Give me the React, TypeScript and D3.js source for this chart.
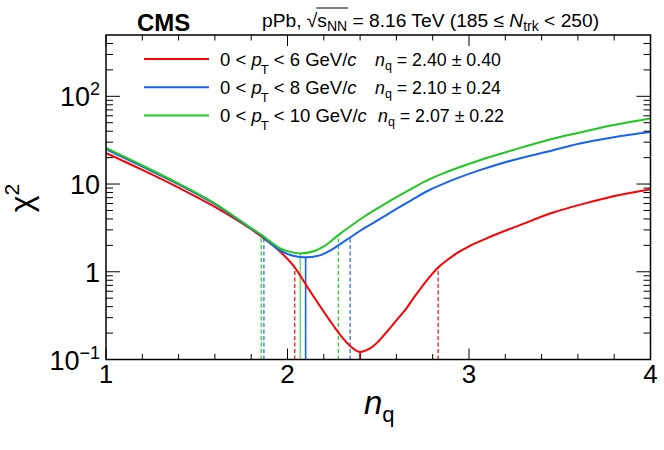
import * as d3 from 'd3';
import React, { useEffect } from 'react';

// chi2 scan values
const redNq = [1.0, 1.2, 1.4, 1.6, 1.8, 1.9, 1.96, 2.04, 2.1, 2.15, 2.23, 2.3, 2.35, 2.4, 2.45, 2.5, 2.55, 2.6, 2.65, 2.7, 2.77, 2.83, 2.88, 2.94, 3.0, 3.1, 3.28, 3.46, 3.65, 3.83, 4.0];
const redChi2 = [22.6, 14.5, 9.1, 5.5, 3.05, 2.15, 1.69, 1.12, 0.72, 0.5, 0.285, 0.18, 0.14, 0.122, 0.132, 0.16, 0.21, 0.28, 0.37, 0.52, 0.81, 1.12, 1.36, 1.66, 1.95, 2.42, 3.4, 4.7, 6.1, 7.5, 8.7];

const blueNq = [1.0, 1.2, 1.4, 1.6, 1.8, 1.86, 1.92, 1.96, 2.03, 2.1, 2.17, 2.22, 2.28, 2.345, 2.43, 2.51, 2.6, 2.69, 2.78, 2.88, 3.06, 3.24, 3.43, 3.61, 3.79, 4.0];
const blueChi2 = [24.9, 15.8, 9.9, 5.9, 3.1, 2.55, 2.0, 1.75, 1.52, 1.46, 1.52, 1.68, 2.0, 2.46, 3.2, 4.0, 5.2, 6.7, 8.5, 10.5, 14.4, 18.7, 23.3, 29.0, 34.0, 39.3];

const greenNq = [1.0, 1.2, 1.4, 1.6, 1.8, 1.86, 1.92, 1.96, 2.0, 2.07, 2.14, 2.2, 2.28, 2.35, 2.43, 2.51, 2.6, 2.69, 2.78, 2.88, 3.06, 3.24, 3.43, 3.61, 3.79, 4.0];
const greenChi2 = [25.8, 16.3, 10.1, 6.0, 3.15, 2.6, 2.1, 1.85, 1.72, 1.62, 1.7, 1.95, 2.62, 3.35, 4.35, 5.5, 7.1, 9.0, 11.3, 13.8, 18.7, 24.3, 31.6, 38.7, 46.8, 55.9];

// best fit and +-1 sigma (delta chi2 = 1) positions
const seriesNames = ['red', 'blue', 'green'];
const seriesColors = ['#ff0000', '#1763f2', '#1fc81f'];
const ptMax = ['6', '8', '10'];
const fitLabels = ['2.40 \u00b1 0.40', '2.10 \u00b1 0.24', '2.07 \u00b1 0.22'];
const bestNq = [2.4, 2.1, 2.07];
const bestChi2 = [0.122, 1.46, 1.62];
const lowNq = [2.04, 1.87, 1.855];
const highNq = [2.83, 2.345, 2.28];
const sigmaChi2 = [1.12, 2.46, 2.62];

const xMajor = [1, 2, 3, 4];
const yMajor = [0.1, 1, 10, 100];
const yLabels = [['10', '\u22121'], ['1', ''], ['10', ''], ['10', '2']];

export default function App() {
  const ref = React.useRef<SVGSVGElement>(null);

  useEffect(() => {
    if (!ref.current) return;
    document.body.style.margin = '0';
    const svg = d3.select(ref.current);
    svg.selectAll('*').remove();

    const left = 106, right = 650.5, top = 35, bottom = 359.5;
    const x = d3.scaleLinear().domain([1, 4]).range([left, right]);
    const y = d3.scaleLog().domain([0.1, 500]).range([bottom, top]);
    const font = "'Liberation Sans', Arial, Helvetica, sans-serif";
    svg.style('font-family', font);

    const data = [
      redNq.map((n, i) => [n, redChi2[i]]),
      blueNq.map((n, i) => [n, blueChi2[i]]),
      greenNq.map((n, i) => [n, greenChi2[i]]),
    ];

    const plot = svg.append('g');

    // dashed +-1 sigma lines and solid best-fit lines
    seriesNames.forEach((_, i) => {
      [lowNq[i], highNq[i]].forEach(n => {
        plot.append('line')
          .attr('x1', x(n)).attr('x2', x(n))
          .attr('y1', y(0.1)).attr('y2', y(sigmaChi2[i]))
          .attr('stroke', seriesColors[i])
          .attr('stroke-width', 1.2)
          .attr('stroke-dasharray', '4,2.5');
      });
      plot.append('line')
        .attr('x1', x(bestNq[i])).attr('x2', x(bestNq[i]))
        .attr('y1', y(0.1)).attr('y2', y(bestChi2[i]))
        .attr('stroke', seriesColors[i])
        .attr('stroke-opacity', i === 2 ? 0.6 : 1)
        .attr('stroke-width', 1.6);
    });

    const line = d3.line<number[]>()
      .x(d => x(d[0]))
      .y(d => y(d[1]))
      .curve(d3.curveMonotoneX);
    data.forEach((pts, i) => {
      plot.append('path')
        .datum(pts)
        .attr('fill', 'none')
        .attr('stroke', seriesColors[i])
        .attr('stroke-width', 2)
        .attr('d', line);
    });

    // ticks, on all four sides
    const axis = svg.append('g').attr('stroke', '#000').attr('stroke-width', 1);
    d3.range(1, 4.001, 0.2).forEach(v => {
      const major = xMajor.some(m => Math.abs(m - v) < 1e-6);
      const len = major ? 11 : 5.5;
      axis.append('line').attr('x1', x(v)).attr('x2', x(v)).attr('y1', bottom).attr('y2', bottom - len);
      axis.append('line').attr('x1', x(v)).attr('x2', x(v)).attr('y1', top).attr('y2', top + len);
    });
    const yMinor: number[] = [];
    yMajor.forEach(d => d3.range(2, 10).forEach(k => { if (d * k < 500) yMinor.push(d * k); }));
    yMajor.forEach(v => {
      axis.append('line').attr('x1', left).attr('x2', left + 14).attr('y1', y(v)).attr('y2', y(v));
      axis.append('line').attr('x1', right).attr('x2', right - 14).attr('y1', y(v)).attr('y2', y(v));
    });
    yMinor.forEach(v => {
      axis.append('line').attr('x1', left).attr('x2', left + 7).attr('y1', y(v)).attr('y2', y(v));
      axis.append('line').attr('x1', right).attr('x2', right - 7).attr('y1', y(v)).attr('y2', y(v));
    });

    svg.append('rect')
      .attr('x', left).attr('y', top)
      .attr('width', right - left).attr('height', bottom - top)
      .attr('fill', 'none').attr('stroke', '#000').attr('stroke-width', 1.5);

    // tick labels
    xMajor.forEach(v => {
      svg.append('text')
        .attr('x', x(v)).attr('y', 383)
        .attr('text-anchor', 'middle')
        .style('font-size', '26px')
        .text(String(v));
    });
    yMajor.forEach((v, i) => {
      const t = svg.append('text')
        .attr('x', 100).attr('y', y(v) + 10)
        .attr('text-anchor', 'end')
        .style('font-size', '27px');
      t.append('tspan').text(yLabels[i][0]);
      if (yLabels[i][1]) {
        t.append('tspan').attr('dy', -11).style('font-size', '18px').text(yLabels[i][1]);
      }
    });

    // axis titles
    const xt = svg.append('text').attr('x', 364).attr('y', 414).style('font-size', '33px');
    xt.append('tspan').style('font-style', 'italic').text('n');
    xt.append('tspan').attr('dy', 8).style('font-size', '22px').text('q');

    const yt = svg.append('text')
      .attr('transform', 'translate(32,198) rotate(-90)')
      .attr('text-anchor', 'middle')
      .style('font-size', '32px');
    yt.append('tspan').text('\u03c7');
    yt.append('tspan').attr('dy', -13).style('font-size', '21px').text('2');

    // header
    svg.append('text')
      .attr('x', 137).attr('y', 31)
      .style('font-size', '24px').style('font-weight', 'bold')
      .text('CMS');
    const hdr = svg.append('text').attr('x', 262).attr('y', 27).style('font-size', '19.2px');
    hdr.append('tspan').text('pPb, \u221a');
    hdr.append('tspan').text('s');
    hdr.append('tspan').attr('dy', 4).style('font-size', '14px').text('NN');
    hdr.append('tspan').attr('dy', -4).text(' = 8.16 TeV (185 \u2264 ');
    hdr.append('tspan').style('font-style', 'italic').text('N');
    hdr.append('tspan').attr('dy', 4).style('font-size', '14px').text('trk');
    hdr.append('tspan').attr('dy', -4).text(' < 250)');
    const hn = hdr.node() as SVGTextElement;
    const sIdx = 'pPb, \u221a'.length;
    const x0 = hn.getEndPositionOfChar(sIdx - 1).x - 1;
    const x1 = hn.getEndPositionOfChar(sIdx + 2).x + 1;
    svg.append('line')
      .attr('x1', x0).attr('x2', x1).attr('y1', 8).attr('y2', 8)
      .attr('stroke', '#000').attr('stroke-width', 1);

    // legend
    seriesNames.forEach((_, i) => {
      const ly = 59 + i * 28.3;
      svg.append('line')
        .attr('x1', 144).attr('x2', 209).attr('y1', ly).attr('y2', ly)
        .attr('stroke', seriesColors[i]).attr('stroke-width', 2);
      const t = svg.append('text').attr('x', 220).attr('y', ly + 6.5).style('font-size', '18.5px');
      t.append('tspan').text('0 < ');
      t.append('tspan').style('font-style', 'italic').text('p');
      t.append('tspan').attr('dx', -1).attr('dy', 8).style('font-size', '13px').text('T');
      t.append('tspan').attr('dy', -8).text(` < ${ptMax[i]} GeV/`);
      t.append('tspan').style('font-style', 'italic').text('c');
      const f = svg.append('text').attr('x', i === 2 ? 378 : 375).attr('y', ly + 6.5).style('font-size', '17.8px');
      f.append('tspan').style('font-style', 'italic').text('n');
      f.append('tspan').attr('dy', 4).style('font-size', '12.5px').text('q');
      f.append('tspan').attr('dy', -4).text(` = ${fitLabels[i]}`);
    });
  }, []);

  return <svg ref={ref} width={664} height={450} style={{ display: 'block' }}></svg>;
}
